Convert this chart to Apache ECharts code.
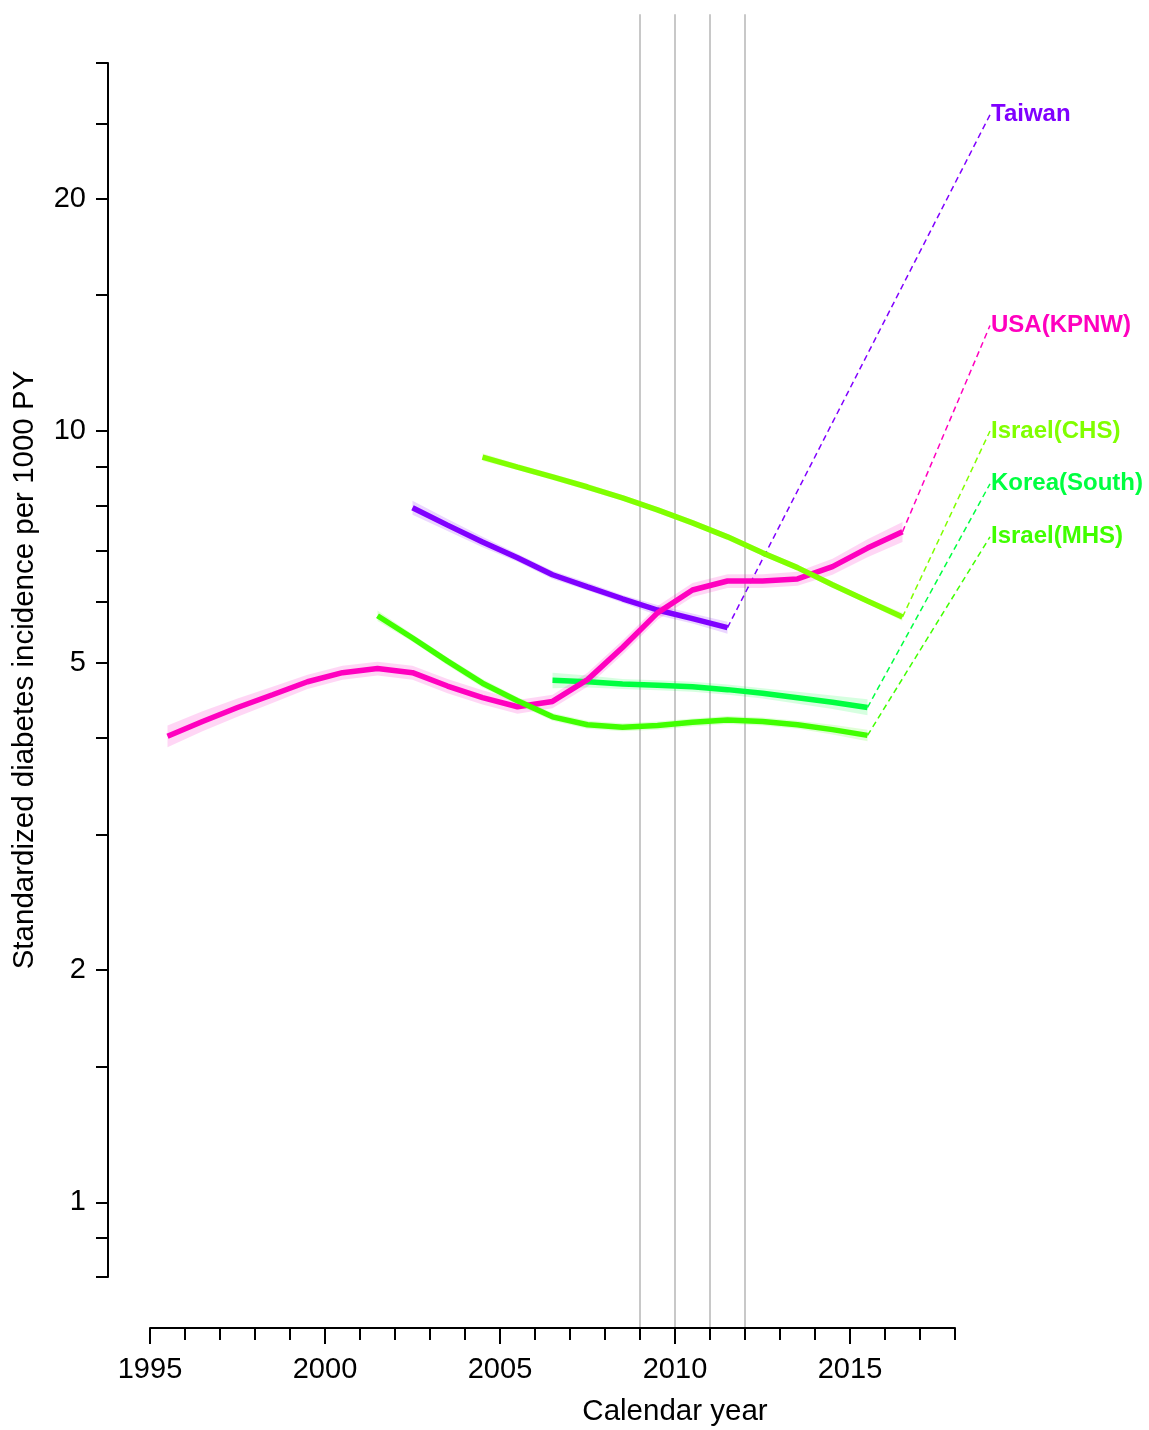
<!DOCTYPE html>
<html>
<head>
<meta charset="utf-8">
<script src="https://cdn.jsdelivr.net/npm/echarts@6/dist/echarts.min.js"></script>
<style>
html,body{margin:0;padding:0;background:#fff;}
#chart{width:1149px;height:1430px;}
</style>
</head>
<body>
<div id="chart"></div>
<script>
// ---------------- data ----------------
const usaYears = [1995.5,1996.5,1997.5,1998.5,1999.5,2000.5,2001.5,2002.5,2003.5,2004.5,2005.5,2006.5,2007.5,2008.5,2009.5,2010.5,2011.5,2012.5,2013.5,2014.5,2015.5,2016.5];
const usaRate = [4.02,4.20,4.38,4.55,4.73,4.86,4.92,4.86,4.67,4.51,4.39,4.46,4.76,5.24,5.81,6.22,6.39,6.39,6.43,6.67,7.05,7.40];
const usaLo   = [3.89,4.08,4.26,4.44,4.63,4.76,4.82,4.76,4.57,4.42,4.30,4.37,4.66,5.13,5.69,6.09,6.26,6.26,6.30,6.51,6.86,7.18];
const usaHi   = [4.15,4.33,4.50,4.66,4.83,4.96,5.02,4.96,4.77,4.61,4.48,4.55,4.86,5.35,5.93,6.35,6.52,6.52,6.57,6.83,7.24,7.62];

const taiwanYears = [2002.5,2003.5,2004.5,2005.5,2006.5,2007.5,2008.5,2009.5,2010.5,2011.5];
const taiwanRate = [7.95,7.55,7.18,6.85,6.51,6.28,6.06,5.86,5.71,5.56];
const taiwanLo   = [7.79,7.42,7.07,6.77,6.43,6.21,5.99,5.77,5.63,5.46];
const taiwanHi   = [8.12,7.69,7.29,6.93,6.59,6.36,6.13,5.95,5.80,5.66];

const chsYears = [2004.5,2005.5,2006.5,2007.5,2008.5,2009.5,2010.5,2011.5,2012.5,2013.5,2014.5,2015.5,2016.5];
const chsRate = [9.25,8.98,8.72,8.46,8.19,7.90,7.60,7.29,6.95,6.65,6.32,6.02,5.74];
const chsLo   = [9.14,8.90,8.64,8.38,8.12,7.83,7.53,7.22,6.89,6.59,6.26,5.97,5.67];
const chsHi   = [9.36,9.06,8.80,8.54,8.26,7.97,7.67,7.36,7.01,6.71,6.38,6.07,5.81];

const koreaYears = [2006.5,2007.5,2008.5,2009.5,2010.5,2011.5,2012.5,2013.5,2014.5,2015.5];
const koreaRate = [4.75,4.73,4.70,4.68,4.66,4.62,4.57,4.51,4.45,4.38];
const koreaLo   = [4.64,4.65,4.63,4.61,4.59,4.55,4.50,4.43,4.36,4.28];
const koreaHi   = [4.86,4.82,4.77,4.75,4.73,4.69,4.64,4.59,4.54,4.49];

const mhsYears = [2001.5,2002.5,2003.5,2004.5,2005.5,2006.5,2007.5,2008.5,2009.5,2010.5,2011.5,2012.5,2013.5,2014.5,2015.5];
const mhsRate = [5.76,5.39,5.03,4.71,4.47,4.26,4.16,4.13,4.15,4.19,4.22,4.20,4.16,4.10,4.03];
const mhsLo   = [5.67,5.33,4.97,4.65,4.42,4.21,4.11,4.08,4.10,4.14,4.17,4.15,4.11,4.04,3.96];
const mhsHi   = [5.85,5.45,5.09,4.77,4.52,4.31,4.21,4.18,4.20,4.24,4.27,4.25,4.21,4.16,4.10];

// label anchor values (country-name labels at the right)
const labelYear = 2019;
const labelAnchor = {Taiwan:25.7, 'USA(KPNW)':13.7, 'Israel(CHS)':10.0, 'Korea(South)':8.54, 'Israel(MHS)':7.29};

// reference vertical lines
const refYears = [2009,2010,2011,2012];

// axis ticks
const xMajorTicks = [1995,2000,2005,2010,2015];
const yTickValues = [0.8,0.9,1,1.5,2,3,4,5,6,7,8,9,10,15,20,25,30];
const yLabelValues = [1,2,5,10,20];

// ---------------- chart ----------------
const L = v => Math.log10(v);
const FONT = '"Liberation Sans", Arial, Helvetica, sans-serif';
const series = [];

refYears.forEach(yr => {
  series.push({
    type:'line', data:[[yr, L(0.689)],[yr, L(34.7)]], symbol:'none', clip:false,
    lineStyle:{color:'#c8c8c8', width:2}, z:0, silent:true, animation:false
  });
});

function addCountry(name, color, years, rate, lo, hi, bandOpacity) {
  // confidence band polygon, drawn through the axis scales
  series.push({
    type:'custom', silent:true, z:1, clip:false,
    data:[[years[0], L(rate[0])]],
    renderItem:(params, api) => {
      const pts = [];
      for (let i = 0; i < years.length; i++) pts.push(api.coord([years[i], L(hi[i])]));
      for (let i = years.length - 1; i >= 0; i--) pts.push(api.coord([years[i], L(lo[i])]));
      return {type:'polygon', shape:{points:pts}, style:{fill:color, opacity:bandOpacity}};
    }
  });
  series.push({
    name:name, type:'line', data:years.map((x,i)=>[x, L(rate[i])]),
    symbol:'none', lineStyle:{color:color, width:5.5}, z:3
  });
  const n = years.length - 1;
  // dashed connector from the last point to the name label
  series.push({
    type:'custom', silent:true, z:2, clip:false,
    encode:{x:[0,2], y:[1,3]},
    data:[[years[n], L(rate[n]), labelYear, L(labelAnchor[name])]],
    renderItem:(params, api) => {
      const p1 = api.coord([api.value(0), api.value(1)]);
      const p2 = api.coord([api.value(2), api.value(3)]);
      return {type:'line', shape:{x1:p1[0], y1:p1[1], x2:p2[0], y2:p2[1]},
        style:{stroke:color, lineWidth:1.5, lineDash:[6,4], fill:null}};
    }
  });
  series.push({
    type:'scatter', clip:false, silent:true, z:4,
    data:[[labelYear, L(labelAnchor[name])]],
    symbol:'circle', symbolSize:2, itemStyle:{color:'rgba(0,0,0,0)', opacity:1},
    label:{show:true, position:'right', distance:0, formatter:name, color:color,
      fontSize:24, fontWeight:'bold', fontFamily:FONT}
  });
}

addCountry('Korea(South)', '#00FF40', koreaYears, koreaRate, koreaLo, koreaHi, 0.16);
addCountry('Taiwan', '#8000FF', taiwanYears, taiwanRate, taiwanLo, taiwanHi, 0.16);
addCountry('USA(KPNW)', '#FF00BF', usaYears, usaRate, usaLo, usaHi, 0.16);
addCountry('Israel(MHS)', '#40FF00', mhsYears, mhsRate, mhsLo, mhsHi, 0.16);
addCountry('Israel(CHS)', '#80FF00', chsYears, chsRate, chsLo, chsHi, 0.16);

const chart = echarts.init(document.getElementById('chart'), null, {renderer:'canvas'});
chart.setOption({
  animation:false,
  backgroundColor:'#ffffff',
  textStyle:{fontFamily:FONT},
  grid:{left:150, right:194, top:63, bottom:153, containLabel:false, outerBoundsMode:'none'},
  xAxis:[{
    type:'value', min:1995, max:2018, interval:1, position:'bottom', offset:51,
    axisLine:{show:true, onZero:false, lineStyle:{color:'#000', width:2}},
    axisTick:{show:true, length:12, lineStyle:{color:'#000', width:2}},
    axisLabel:{show:true, color:'#000', fontSize:29, fontFamily:FONT, margin:27,
      formatter:v => (xMajorTicks.indexOf(v) >= 0 ? String(v) : '')},
    splitLine:{show:false}
  },{
    type:'value', min:1995, max:2018, position:'bottom', offset:51,
    axisLine:{show:false, onZero:false},
    axisTick:{show:true, length:16, lineStyle:{color:'#000', width:2}, customValues:xMajorTicks},
    axisLabel:{show:false},
    splitLine:{show:false}
  }],
  yAxis:{
    type:'value', min:L(0.8), max:L(30), position:'left', offset:42,
    axisLine:{show:true, onZero:false, lineStyle:{color:'#000', width:2}},
    axisTick:{show:true, length:12, lineStyle:{color:'#000', width:2}, customValues:yTickValues.map(L)},
    axisLabel:{show:true, color:'#000', fontSize:29, fontFamily:FONT, margin:22,
      customValues:yLabelValues.map(L),
      formatter:v => String(Math.round(Math.pow(10, v)*100)/100)},
    splitLine:{show:false}
  },
  graphic:[
    {type:'text', x:25, y:670, rotation:Math.PI/2,
      style:{text:'Standardized diabetes incidence per 1000 PY', fill:'#000', fontSize:29.5, fontFamily:FONT, align:'center', verticalAlign:'middle'}},
    {type:'text', x:675, y:1412,
      style:{text:'Calendar year', fill:'#000', fontSize:29.5, fontFamily:FONT, align:'center', verticalAlign:'middle'}}
  ],
  series:series
});
</script>
</body>
</html>
